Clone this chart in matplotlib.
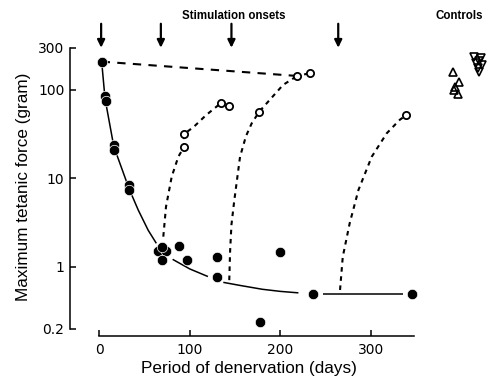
import matplotlib
matplotlib.use("Agg")
import matplotlib.pyplot as plt
import numpy as np

plt.rcParams['font.family'] = ['Liberation Sans', 'DejaVu Sans']

# ---- data ----
filled_days = [2.6, 6, 7, 16, 16, 33, 33, 65, 74, 69, 69, 88, 96.5, 130, 130, 178, 200, 236, 345]
filled_vals = [209, 85, 75, 24, 21, 8.5, 7.5, 1.5, 1.5, 1.7, 1.2, 1.73, 1.2, 1.3, 0.78, 0.24, 1.49, 0.5, 0.5]

open_days = [93.6, 93.6, 135, 143.6, 176.8, 218.6, 233, 339]
open_vals = [22.7, 31.8, 72, 66, 57, 144, 155, 52]

# hand-drawn decline curve (segments, broken around symbols)
decline_segments = [
    ([2.6, 6.3, 16, 33, 43, 54, 63], [209, 80, 23, 7.6, 4.4, 2.6, 1.85]),
    ([81, 100, 120], [1.22, 0.95, 0.78]),
    ([137, 155, 180, 200, 220], [0.67, 0.62, 0.56, 0.53, 0.51]),
    ([247, 336], [0.5, 0.5]),
]

# recovery curves after stimulation (dashed)
recovery1_days = [2.6, 218.6, 233]
recovery1_vals = [209, 144, 155]
recovery2_days = [70.7, 73.7, 80, 87.3, 93.6, 93.6, 104, 118, 135]
recovery2_vals = [2.2, 4.8, 10.5, 17.6, 22.7, 31.8, 38, 52, 72]
recovery3_days = [143.6, 144.5, 146, 149, 155.5, 162, 168.4, 176.8, 203, 218.6]
recovery3_vals = [0.71, 1.5, 3, 5.5, 17.6, 30, 42, 57, 114, 144]
recovery4_days = [266, 269, 276.6, 286.3, 301, 317.6, 332, 339]
recovery4_vals = [0.55, 1.3, 3.1, 7.4, 17.6, 32.4, 46, 52]

control_up_days = [391, 397, 392, 396, 393]
control_up_vals = [160, 124, 100, 90, 108]
control_down_days = [414, 421.7, 416, 423, 418, 420, 419]
control_down_vals = [236, 230, 202, 191, 177, 160, 215]

onset_days = [2, 68, 146, 264]

xticks = [0, 100, 200, 300]
yticks = [0.2, 1, 10, 100, 300]
ytick_labels = ['0.2', '1', '10', '100', '300']

# ---- figure ----
W, H = 489, 379
fig = plt.figure(figsize=(W / 100, H / 100), dpi=100)
ax = fig.add_axes([70 / W, (H - 336) / H, (W - 70) / W, (336 - 10) / H])
ax.set_yscale('log')
ax.set_xlim(-32.4, 430.6)
ax.set_ylim(0.166, 801)

for d, v in decline_segments:
    ax.plot(d, v, color='black', lw=1.1, solid_capstyle='butt')

ax.plot(recovery1_days, recovery1_vals, color='black', lw=1.5, dashes=(4, 3.5))
for d, v in [(recovery2_days, recovery2_vals), (recovery3_days, recovery3_vals),
             (recovery4_days, recovery4_vals)]:
    ax.plot(d, v, color='black', lw=1.5, dashes=(2.2, 2.2))

ax.plot(filled_days, filled_vals, 'o', color='black', ms=7.5, mec='white', mew=0.5, ls='none')
ax.plot(open_days, open_vals, 'o', mfc='white', mec='black', ms=5.2, mew=1.3, ls='none')
ax.plot(control_up_days, control_up_vals, '^', mfc='none', mec='black', ms=6, mew=1.2, ls='none')
ax.plot(control_down_days, control_down_vals, 'v', mfc='none', mec='black', ms=6, mew=1.2, ls='none')

for d in onset_days:
    ax.annotate('', xy=(d, 300), xytext=(d, 560),
                arrowprops=dict(arrowstyle='-|>,head_length=0.45,head_width=0.22',
                                color='black', lw=1.6, shrinkA=0, shrinkB=0))

ax.text(148, 680, 'Stimulation onsets', ha='center', va='center', fontsize=8.3, fontweight='bold')
ax.text(371, 680, 'Controls', ha='left', va='center', fontsize=8.3, fontweight='bold')

# axes styling
for s in ['top', 'right']:
    ax.spines[s].set_visible(False)
ax.spines['left'].set_bounds(0.2, 300)
ax.spines['bottom'].set_bounds(0, 348)
ax.spines['left'].set_linewidth(1.1)
ax.spines['bottom'].set_linewidth(1.1)

ax.set_xticks(xticks)
ax.set_yticks(yticks)
ax.set_yticklabels(ytick_labels)
ax.yaxis.set_minor_locator(matplotlib.ticker.NullLocator())
ax.tick_params(axis='both', direction='in', length=4, width=1.1, labelsize=10)
for lab in ax.get_xticklabels() + ax.get_yticklabels():
    lab.set_family(['DejaVu Sans'])
ax.tick_params(axis='x', pad=5)
ax.tick_params(axis='y', pad=4)

ax.set_xlabel('Period of denervation (days)', fontsize=12.3)
ax.set_ylabel('Maximum tetanic force (gram)', fontsize=12.3)
ax.xaxis.set_label_coords(0.427, -0.078)
ax.yaxis.set_label_coords(-0.094, 0.457)

fig.savefig('out.png', dpi=100)
